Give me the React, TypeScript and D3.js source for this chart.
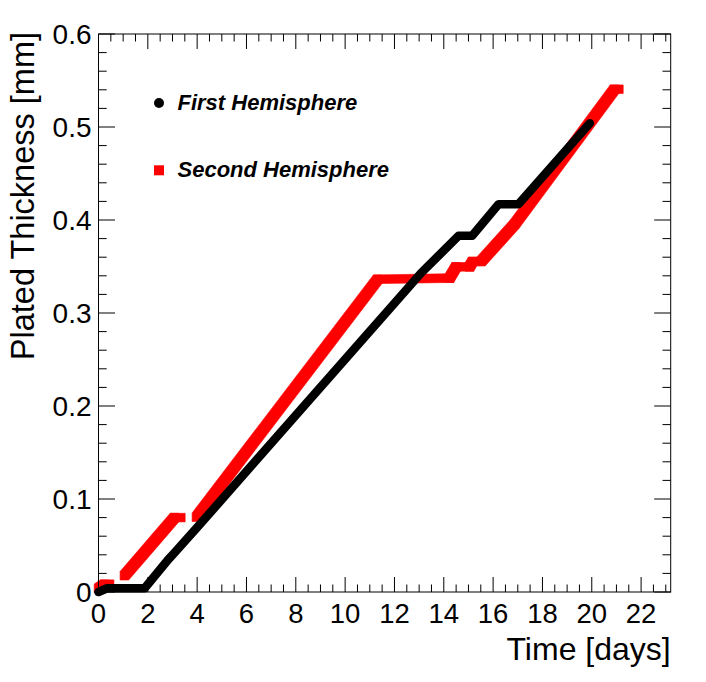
import React, { useEffect, useRef } from 'react';
import * as d3 from 'd3';

// First hemisphere (black circles)
const firstDays = [0, 0.35, 1.87, 2.83, 3.04, 3.92, 13.08, 14.6, 15.15, 16.22, 17.03, 19.92];
const firstThickness = [0, 0.004, 0.004, 0.035, 0.041, 0.067, 0.343, 0.383, 0.383, 0.417, 0.417, 0.504];

// Second hemisphere (red squares), null = no data
const secondDays = [0, 0.25, 0.45, null, 1.05, 3.08, 3.34, null, 3.97, 11.32, 14.23, 14.5, 15.04, 15.17, 15.51, 16.87, 20.92, 21.1];
const secondThickness = [0.004, 0.0084, 0.0084, null, 0.0175, 0.08, 0.08, null, 0.0804, 0.3363, 0.3375, 0.3496, 0.3496, 0.3554, 0.3554, 0.3954, 0.5406, 0.5406];

const xTicks = [0, 2, 4, 6, 8, 10, 12, 14, 16, 18, 20, 22];
const yTicks = [0, 0.1, 0.2, 0.3, 0.4, 0.5, 0.6];
const yTickLabels = ['0', '0.1', '0.2', '0.3', '0.4', '0.5', '0.6'];
const legendLabels = ['First Hemisphere', 'Second Hemisphere'];

const W = 706;
const H = 682;
const FONT = 'Liberation Sans, Arial, Helvetica, sans-serif';

export default function App() {
  const svgRef = useRef<SVGSVGElement>(null);

  useEffect(() => {
    if (!svgRef.current) return;
    const svg = d3.select(svgRef.current);
    svg.selectAll('*').remove();

    const left = 98.5, right = 670.7, top = 34, bottom = 592;
    const x = d3.scaleLinear().domain([0, 23.2]).range([left, right]);
    const y = d3.scaleLinear().domain([0, 0.6]).range([bottom, top]);

    svg.append('rect').attr('width', W).attr('height', H).attr('fill', 'white');

    // red squares swept along the path
    const h = 4.3;
    const red = svg.append('g').attr('fill', '#ff0000').attr('stroke', '#ff0000').attr('stroke-width', 0.6);
    for (let i = 0; i < secondDays.length - 1; i++) {
      const a = secondDays[i], b = secondDays[i + 1];
      if (a == null || b == null) continue;
      const pts: [number, number][] = [];
      [[a, secondThickness[i]], [b, secondThickness[i + 1]]].forEach(([t, v]) => {
        const px = x(t as number), py = y(v as number);
        pts.push([px - h, py - h], [px + h, py - h], [px + h, py + h], [px - h, py + h]);
      });
      const hull = d3.polygonHull(pts);
      if (hull) red.append('path').attr('d', 'M' + hull.join('L') + 'Z');
    }

    // black circles -> round stroke
    const line = d3.line<number>()
      .x(i => x(firstDays[i]))
      .y(i => y(firstThickness[i]));
    svg.append('path')
      .attr('d', line(d3.range(firstDays.length)))
      .attr('fill', 'none')
      .attr('stroke', 'black')
      .attr('stroke-width', 8.6)
      .attr('stroke-linecap', 'round')
      .attr('stroke-linejoin', 'round');

    // frame
    svg.append('rect')
      .attr('x', left).attr('y', top)
      .attr('width', right - left).attr('height', bottom - top)
      .attr('fill', 'none').attr('stroke', 'black').attr('stroke-width', 1);

    // ticks
    const ticks = svg.append('g').attr('stroke', 'black').attr('stroke-width', 1);
    d3.range(0, 23.2, 0.5).forEach(t => {
      const len = t % 2 === 0 ? 15 : 7.5;
      const px = x(t);
      ticks.append('line').attr('x1', px).attr('x2', px).attr('y1', bottom).attr('y2', bottom - len);
      ticks.append('line').attr('x1', px).attr('x2', px).attr('y1', top).attr('y2', top + len);
    });
    d3.range(0, 31).forEach(k => {
      const len = k % 5 === 0 ? 16.5 : 8.2;
      const py = y(k * 0.02);
      ticks.append('line').attr('x1', left).attr('x2', left + len).attr('y1', py).attr('y2', py);
      ticks.append('line').attr('x1', right).attr('x2', right - len).attr('y1', py).attr('y2', py);
    });

    // tick labels
    svg.append('g')
      .selectAll('text')
      .data(xTicks)
      .enter()
      .append('text')
      .attr('x', d => x(d))
      .attr('y', 623)
      .attr('text-anchor', 'middle')
      .style('font-family', FONT)
      .style('font-size', '27.5px')
      .text(d => String(d));

    svg.append('g')
      .selectAll('text')
      .data(yTicks)
      .enter()
      .append('text')
      .attr('x', 91.5)
      .attr('y', d => y(d) + 9.8)
      .attr('text-anchor', 'end')
      .style('font-family', FONT)
      .style('font-size', '28px')
      .text((d, i) => yTickLabels[i]);

    // axis titles
    svg.append('text')
      .attr('x', right)
      .attr('y', 660)
      .attr('text-anchor', 'end')
      .style('font-family', FONT)
      .style('font-size', '32px')
      .text('Time [days]');

    svg.append('text')
      .attr('transform', `translate(34, ${top - 2}) rotate(-90)`)
      .attr('text-anchor', 'end')
      .style('font-family', FONT)
      .style('font-size', '32.5px')
      .text('Plated Thickness [mm]');

    // legend
    svg.append('circle').attr('cx', 159).attr('cy', 103).attr('r', 5).attr('fill', 'black');
    svg.append('rect').attr('x', 154).attr('y', 165.3).attr('width', 10).attr('height', 10).attr('fill', '#ff0000');
    [110, 177].forEach((by, i) => {
      svg.append('text')
        .attr('x', 177.5)
        .attr('y', by)
        .style('font-family', FONT)
        .style('font-size', '22px')
        .style('font-weight', 'bold')
        .style('font-style', 'italic')
        .text(legendLabels[i]);
    });
  }, []);

  return (
    <svg
      ref={svgRef}
      width={W}
      height={H}
      style={{ position: 'absolute', left: 0, top: 0 }}
    ></svg>
  );
}
